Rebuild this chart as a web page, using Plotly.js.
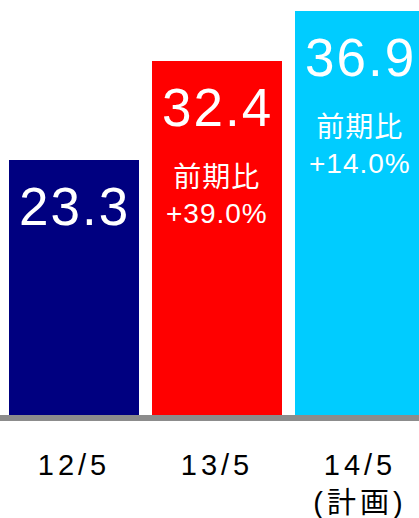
<!DOCTYPE html>
<html>
<head>
<meta charset="utf-8">
<script src="https://cdn.plot.ly/plotly-3.0.1.min.js"></script>
<style>
html,body{margin:0;padding:0;background:#fff;}
#chart{width:419px;height:518px;}
</style>
</head>
<body>
<div id="chart"></div>
<script>
const categories = ["12/5", "13/5", "14/5"];
const tickLabels = ["12/5", "13/5", "14/5<br>(計画)"];
const values = [23.3, 32.4, 36.9];
const valueLabels = ["23.3", "32.4", "36.9"];
const changeLabels = ["", "前期比<br>+39.0%", "前期比<br>+14.0%"];
const barColors = ["#000080", "#FF0000", "#00CCFF"];

const FONT = "Liberation Sans, Arial, 'Noto Sans CJK JP', sans-serif";

const annotations = [];
categories.forEach((c, i) => {
  annotations.push({
    x: c, y: values[i], xref: "x", yref: "y",
    yanchor: "top", xanchor: "center", yshift: -15,
    showarrow: false,
    text: '<span style="letter-spacing:2px">' + valueLabels[i] + '</span>',
    font: {family: FONT, size: 53, color: "#FFFFFF"}
  });
  if (changeLabels[i]) {
    annotations.push({
      x: c, y: values[i], xref: "x", yref: "y",
      yanchor: "top", xanchor: "center", yshift: -99,
      showarrow: false,
      text: '<span style="letter-spacing:1px">' + changeLabels[i] + '</span>',
      font: {family: FONT, size: 28, color: "#FFFFFF"}
    });
  }
});

const trace = {
  type: "bar",
  x: categories,
  y: values,
  width: 0.909,
  marker: {color: barColors, line: {width: 0}},
  hoverinfo: "skip"
};

const layout = {
  width: 419, height: 518,
  margin: {l: 0, r: 0, t: 0, b: 103, pad: 0},
  paper_bgcolor: "#FFFFFF", plot_bgcolor: "#FFFFFF",
  showlegend: false,
  bargap: 0,
  xaxis: {
    type: "category",
    range: [-0.5175, 2.4126],
    tickvals: categories,
    ticktext: tickLabels.map(t => '<span style="letter-spacing:4px">' + t + '</span>'),
    ticks: "", showgrid: false, zeroline: false,
    showline: true, linecolor: "#8C8C8C", linewidth: 6,
    tickfont: {family: FONT, size: 29, color: "#000000"},
    ticklabelstandoff: 19
  },
  yaxis: {
    range: [0, 37.95],
    visible: false, showgrid: false, zeroline: false, fixedrange: true
  },
  annotations: annotations
};

Plotly.newPlot("chart", [trace], layout, {displayModeBar: false, staticPlot: true});
</script>
</body>
</html>
